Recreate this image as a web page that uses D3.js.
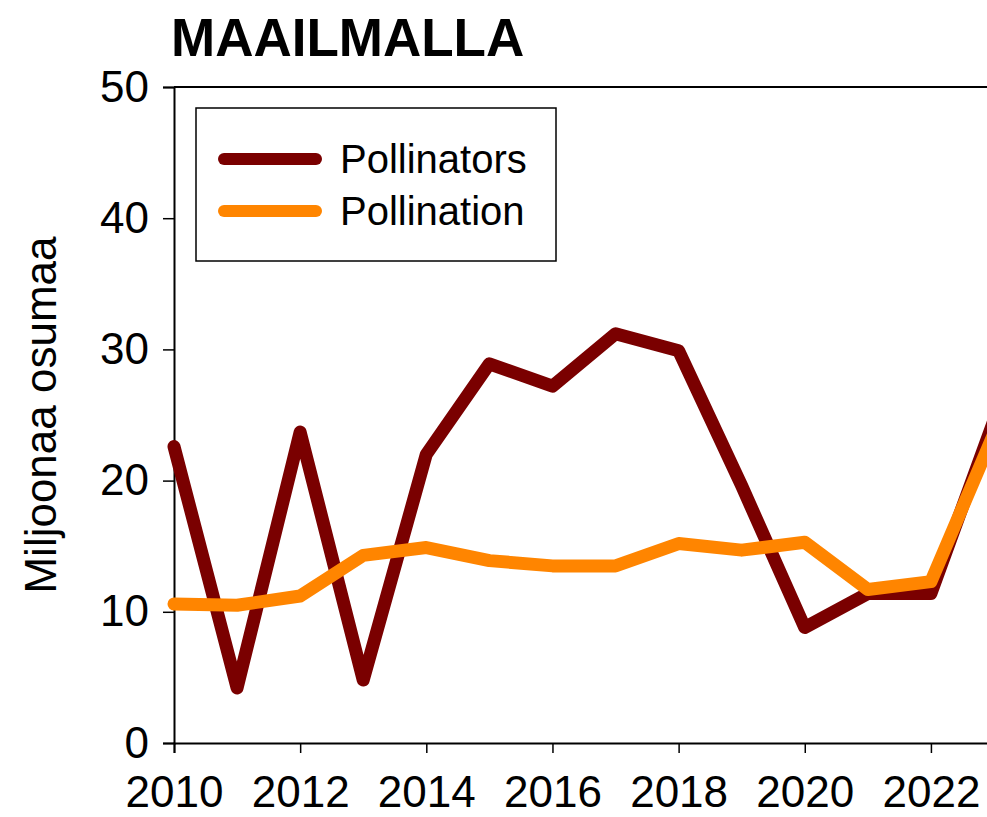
<!DOCTYPE html>
<html>
<head>
<meta charset="utf-8">
<script src="https://cdn.jsdelivr.net/npm/d3@7"></script>
<style>
  html, body { margin: 0; padding: 0; background: #fff; overflow: hidden; }
  svg { display: block; font-family: 'Liberation Sans', Arial, sans-serif; }
</style>
</head>
<body>
<div id="chart"></div>
<script>
// chart data
const years = [2010, 2011, 2012, 2013, 2014, 2015, 2016, 2017, 2018, 2019, 2020, 2021, 2022, 2023];
const pollinators = [22.6, 4.2, 23.7, 4.8, 22.0, 28.9, 27.2, 31.2, 29.9, 19.6, 8.8, 11.4, 11.4, 24.6];
const pollination = [10.6, 10.5, 11.2, 14.3, 14.9, 13.9, 13.5, 13.5, 15.2, 14.7, 15.3, 11.7, 12.3, 23.6];
const xTicks = [2010, 2012, 2014, 2016, 2018, 2020, 2022];
const yTicks = [0, 10, 20, 30, 40, 50];
const seriesNames = ['Pollinators', 'Pollination'];
const seriesColors = ['#7a0000', '#ff8500'];

const width = 987;
const height = 817;
const plotLeft = 174, plotTop = 87, plotBottom = 743, plotRight = 994;

const series = [
  { name: seriesNames[0], color: seriesColors[0], values: years.map((yr, i) => ({ year: yr, v: pollinators[i] })) },
  { name: seriesNames[1], color: seriesColors[1], values: years.map((yr, i) => ({ year: yr, v: pollination[i] })) }
];

const x = d3.scaleLinear().domain([2010, 2023]).range([plotLeft, plotRight]);
const y = d3.scaleLinear().domain([0, 50]).range([plotBottom, plotTop]);

const svg = d3.select('#chart').append('svg')
  .attr('width', width)
  .attr('height', height);

// title
svg.append('text')
  .attr('x', 171)
  .attr('y', 56)
  .style('font-size', '53px')
  .style('font-weight', 'bold')
  .style('fill', '#000')
  .text('MAAILMALLA');

// top frame line
svg.append('line')
  .attr('x1', plotLeft).attr('x2', plotRight)
  .attr('y1', plotTop).attr('y2', plotTop)
  .style('stroke', '#000')
  .style('stroke-width', 2);

/* axes */
const yAxis = d3.axisLeft(y).tickValues(yTicks).tickSize(11).tickPadding(14);
const gy = svg.append('g')
  .attr('transform', `translate(${plotLeft},0)`)
  .call(yAxis);
gy.select('.domain').style('stroke-width', 2);
gy.selectAll('.tick line').style('stroke-width', 1.5);
gy.selectAll('.tick text')
  .style('font-size', '44px')
  .style('font-family', "'Liberation Sans', Arial, sans-serif")
  .style('fill', '#000');

const xAxis = d3.axisBottom(x).tickValues(xTicks).tickFormat(d3.format('d')).tickSize(10).tickPadding(23);
const gx = svg.append('g')
  .attr('transform', `translate(0,${plotBottom})`)
  .call(xAxis);
gx.select('.domain').style('stroke-width', 2);
gx.selectAll('.tick line').style('stroke-width', 1.5);
gx.selectAll('.tick text')
  .style('font-size', '44px')
  .style('font-family', "'Liberation Sans', Arial, sans-serif")
  .style('fill', '#000');

// y label
svg.append('text')
  .attr('transform', 'translate(56,415) rotate(-90)')
  .attr('text-anchor', 'middle')
  .style('font-size', '44px')
  .style('fill', '#000')
  .text('Miljoonaa osumaa');

/* lines */
const line = d3.line()
  .x(d => x(d.year))
  .y(d => y(d.v));

svg.append('g').selectAll('path')
  .data(series).enter()
  .append('path')
  .attr('d', d => line(d.values))
  .style('fill', 'none')
  .style('stroke', d => d.color)
  .style('stroke-width', 13)
  .style('stroke-linejoin', 'round')
  .style('stroke-linecap', 'round');

/* legend */
const legend = svg.append('g');
legend.append('rect')
  .attr('x', 196).attr('y', 108)
  .attr('width', 360).attr('height', 153)
  .style('fill', '#fff')
  .style('stroke', '#000')
  .style('stroke-width', 1.5);

legend.selectAll('line.leg')
  .data(series).enter()
  .append('line')
  .attr('class', 'leg')
  .attr('x1', 224).attr('x2', 316)
  .attr('y1', (d, i) => 159 + i * 52)
  .attr('y2', (d, i) => 159 + i * 52)
  .style('stroke', d => d.color)
  .style('stroke-width', 12)
  .style('stroke-linecap', 'round');

legend.selectAll('text.leg')
  .data(series).enter()
  .append('text')
  .attr('class', 'leg')
  .attr('x', 340)
  .attr('y', (d, i) => 173 + i * 52)
  .style('font-size', '40px')
  .style('fill', '#000')
  .text(d => d.name);
</script>
</body>
</html>
